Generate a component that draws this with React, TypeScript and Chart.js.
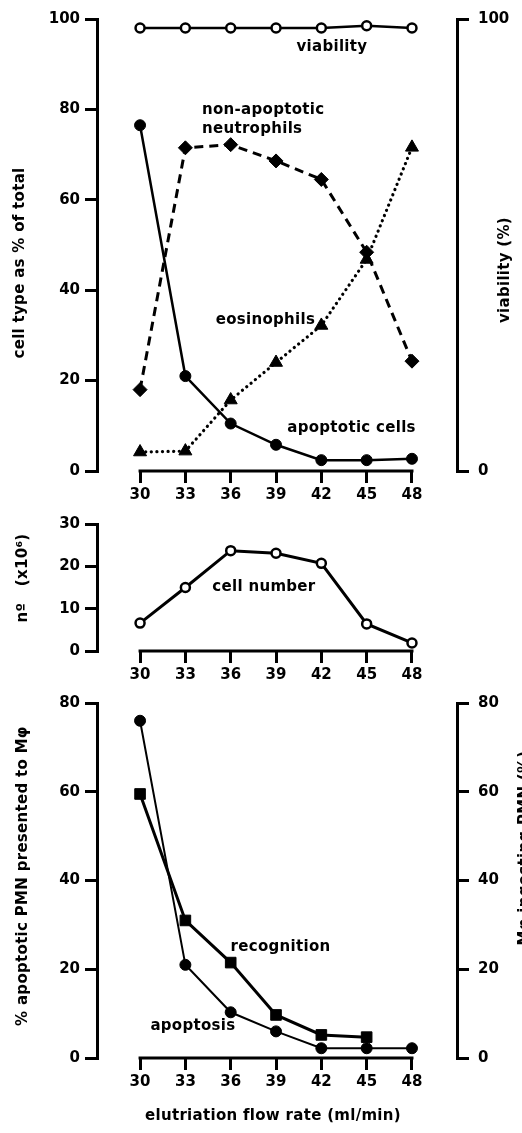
import React, { useEffect, useRef } from 'react';
import { Chart, registerables } from 'chart.js';

Chart.register(...registerables);

// ---- data ----
const flowRates = [30, 33, 36, 39, 42, 45, 48];
const viability = [98, 98, 98, 98, 98, 98.5, 98];
const apoptoticCells = [76.5, 21, 10.5, 5.8, 2.4, 2.4, 2.7];
const nonApoptoticNeutrophils = [18, 71.5, 72.2, 68.6, 64.5, 48.4, 24.3];
const eosinophils = [4.2, 4.4, 15.7, 24, 32.2, 46.8, 71.6];
const cellNumber = [6.6, 15, 23.7, 23.1, 20.7, 6.4, 1.9];
const apoptosis = [76, 21, 10.3, 6, 2.2, 2.2, 2.2];
const recognition = [59.5, 31, 21.5, 9.7, 5.2, 4.7];

const pctTicks = [0, 20, 40, 60, 80, 100];
const viabilityTicks = [0, 100];
const numberTicks = [0, 10, 20, 30];
const ingestTicks = [0, 20, 40, 60, 80];

// ---- style ----
const FONT = '"DejaVu Sans", sans-serif';
const X_MIN = 27.15;
const X_MAX = 50.98;
const tickFont = { family: FONT, size: 15, weight: 'bold' as const };

const pts = (ys: number[]) => ys.map((y, i) => ({ x: flowRates[i], y }));

type Note = { text: string; x: number; y: number; axis?: string; align?: CanvasTextAlign };
type Title = { text: string; x: number; y: number; rot: number };

function makeAnnotate(notes: Note[], titles: Title[]) {
  return {
    id: 'annotate',
    afterDraw(chart: any) {
      const { ctx, chartArea, scales } = chart;
      const xs = scales.x;
      ctx.save();
      // x axis line spanning first to last flow rate
      ctx.strokeStyle = '#000';
      ctx.lineWidth = 3;
      ctx.beginPath();
      ctx.moveTo(xs.getPixelForValue(flowRates[0]) - 1.5, chartArea.bottom);
      ctx.lineTo(xs.getPixelForValue(flowRates[flowRates.length - 1]) + 1.5, chartArea.bottom);
      ctx.stroke();

      ctx.fillStyle = '#000';
      ctx.font = `bold 15px ${FONT}`;
      ctx.letterSpacing = '0.3px';
      ctx.textBaseline = 'middle';
      for (const n of notes) {
        const px = xs.getPixelForValue(n.x);
        const py = scales[n.axis || 'y'].getPixelForValue(n.y);
        ctx.textAlign = n.align || 'center';
        ctx.fillText(n.text, px, py);
      }
      for (const t of titles) {
        ctx.save();
        ctx.translate(t.x, t.y);
        ctx.rotate(t.rot);
        ctx.textAlign = 'center';
        ctx.textBaseline = 'middle';
        ctx.fillText(t.text, 0, 0);
        ctx.restore();
      }
      ctx.restore();
    },
  };
}

function xScale(height: number) {
  return {
    type: 'linear',
    min: X_MIN,
    max: X_MAX,
    afterBuildTicks: (s: any) => { s.ticks = flowRates.map((v) => ({ value: v })); },
    afterFit: (s: any) => { s.height = height; },
    border: { display: false },
    grid: { display: true, drawOnChartArea: false, drawTicks: true, tickLength: 12, color: '#000', lineWidth: 3 },
    ticks: { color: '#000', font: tickFont, padding: 3, maxRotation: 0, autoSkip: false },
  };
}

function yScale(position: 'left' | 'right', min: number, max: number, ticksArr: number[], width: number) {
  return {
    type: 'linear',
    position,
    min,
    max,
    afterBuildTicks: (s: any) => { s.ticks = ticksArr.map((v) => ({ value: v })); },
    afterFit: (s: any) => { s.width = width; },
    border: { display: true, color: '#000', width: 3 },
    grid: { display: true, drawOnChartArea: false, drawTicks: true, tickLength: 12, color: '#000', lineWidth: 3 },
    ticks: { color: '#000', font: tickFont, padding: position === 'left' ? 5 : 9 },
  };
}

const baseOptions = (padding: any, scales: any) => ({
  responsive: false,
  maintainAspectRatio: false,
  animation: false,
  layout: { padding },
  plugins: { legend: { display: false }, tooltip: { enabled: false } },
  elements: { line: { tension: 0, fill: false } },
  scales,
});

function config1(): any {
  return {
    type: 'line',
    data: {
      datasets: [
        {
          label: 'viability', yAxisID: 'y2', data: pts(viability), borderColor: '#000', borderWidth: 2.5,
          pointStyle: 'circle', pointRadius: 4.5, pointBackgroundColor: '#fff', pointBorderColor: '#000', pointBorderWidth: 2.5, clip: false,
        },
        {
          label: 'apoptotic cells', yAxisID: 'y', data: pts(apoptoticCells), borderColor: '#000', borderWidth: 2.5,
          pointStyle: 'circle', pointRadius: 5.5, pointBackgroundColor: '#000', pointBorderColor: '#000', pointBorderWidth: 1, clip: false,
        },
        {
          label: 'non-apoptotic neutrophils', yAxisID: 'y', data: pts(nonApoptoticNeutrophils), borderColor: '#000', borderWidth: 3,
          borderDash: [9, 6], pointStyle: 'rectRot', pointRadius: 7, pointBackgroundColor: '#000', pointBorderColor: '#000', pointBorderWidth: 1, clip: false,
        },
        {
          label: 'eosinophils', yAxisID: 'y', data: pts(eosinophils), borderColor: '#000', borderWidth: 3.2,
          borderDash: [0.1, 5.5], borderCapStyle: 'round', pointStyle: 'triangle', pointRadius: 7.5, pointBackgroundColor: '#000', pointBorderColor: '#000', pointBorderWidth: 1, clip: false,
        },
      ],
    },
    options: baseOptions(
      { top: 19, right: 0, bottom: 0, left: 0 },
      { x: xScale(39), y: yScale('left', 0, 100, pctTicks, 97), y2: yScale('right', 0, 100, viabilityTicks, 65) },
    ),
    plugins: [
      makeAnnotate(
        [
          { text: 'viability', x: 42.7, y: 93.8 },
          { text: 'non-apoptotic', x: 34.1, y: 79.9, align: 'left' },
          { text: 'neutrophils', x: 34.1, y: 75.7, align: 'left' },
          { text: 'eosinophils', x: 38.3, y: 33.4 },
          { text: 'apoptotic cells', x: 44, y: 9.5 },
        ],
        [
          { text: 'cell type as % of total', x: 20, y: 263, rot: -Math.PI / 2 },
          { text: 'viability (%)', x: 505, y: 270, rot: -Math.PI / 2 },
        ],
      ),
    ],
  };
}

function config2(): any {
  return {
    type: 'line',
    data: {
      datasets: [
        {
          label: 'cell number', data: pts(cellNumber), borderColor: '#000', borderWidth: 3,
          pointStyle: 'circle', pointRadius: 4.5, pointBackgroundColor: '#fff', pointBorderColor: '#000', pointBorderWidth: 2.5, clip: false,
        },
      ],
    },
    options: baseOptions(
      { top: 9, right: 65, bottom: 0, left: 0 },
      { x: xScale(34), y: yScale('left', 0, 30, numberTicks, 97) },
    ),
    plugins: [
      makeAnnotate(
        [{ text: 'cell number', x: 38.2, y: 15 }],
        [{ text: 'nº   (x10⁶)', x: 23, y: 68, rot: -Math.PI / 2 }],
      ),
    ],
  };
}

function config3(): any {
  return {
    type: 'line',
    data: {
      datasets: [
        {
          label: 'apoptosis', yAxisID: 'y', data: pts(apoptosis), borderColor: '#000', borderWidth: 2,
          pointStyle: 'circle', pointRadius: 5.5, pointBackgroundColor: '#000', pointBorderColor: '#000', pointBorderWidth: 1, clip: false,
        },
        {
          label: 'recognition', yAxisID: 'y2', data: pts(recognition), borderColor: '#000', borderWidth: 3,
          pointStyle: 'rect', pointRadius: 7.5, pointBackgroundColor: '#000', pointBorderColor: '#000', pointBorderWidth: 1, clip: false,
        },
      ],
    },
    options: baseOptions(
      { top: 11, right: 0, bottom: 0, left: 0 },
      { x: xScale(75), y: yScale('left', 0, 80, ingestTicks, 97), y2: yScale('right', 0, 80, ingestTicks, 65) },
    ),
    plugins: [
      makeAnnotate(
        [
          { text: 'recognition', x: 39.3, y: 25 },
          { text: 'apoptosis', x: 33.5, y: 7.1 },
        ],
        [
          { text: '% apoptotic PMN presented to Mφ', x: 23, y: 191, rot: -Math.PI / 2 },
          { text: 'Mφ ingesting PMN (%)', x: 525, y: 163, rot: -Math.PI / 2 },
          { text: 'elutriation flow rate (ml/min)', x: 273, y: 431, rot: 0 },
        ],
      ),
    ],
  };
}

export default function App() {
  const r1 = useRef<HTMLCanvasElement>(null);
  const r2 = useRef<HTMLCanvasElement>(null);
  const r3 = useRef<HTMLCanvasElement>(null);

  useEffect(() => {
    document.body.style.margin = '0';
    const charts = [
      new Chart(r1.current!, config1()),
      new Chart(r2.current!, config2()),
      new Chart(r3.current!, config3()),
    ];
    return () => charts.forEach((c) => c.destroy());
  }, []);

  return (
    <div style={{ position: 'relative', width: 522, height: 1133, background: '#fff', overflow: 'hidden' }}>
      <canvas ref={r1} width={522} height={510} style={{ position: 'absolute', left: 0, top: 0 }} />
      <canvas ref={r2} width={522} height={175} style={{ position: 'absolute', left: 0, top: 510 }} />
      <canvas ref={r3} width={522} height={448} style={{ position: 'absolute', left: 0, top: 685 }} />
    </div>
  );
}
